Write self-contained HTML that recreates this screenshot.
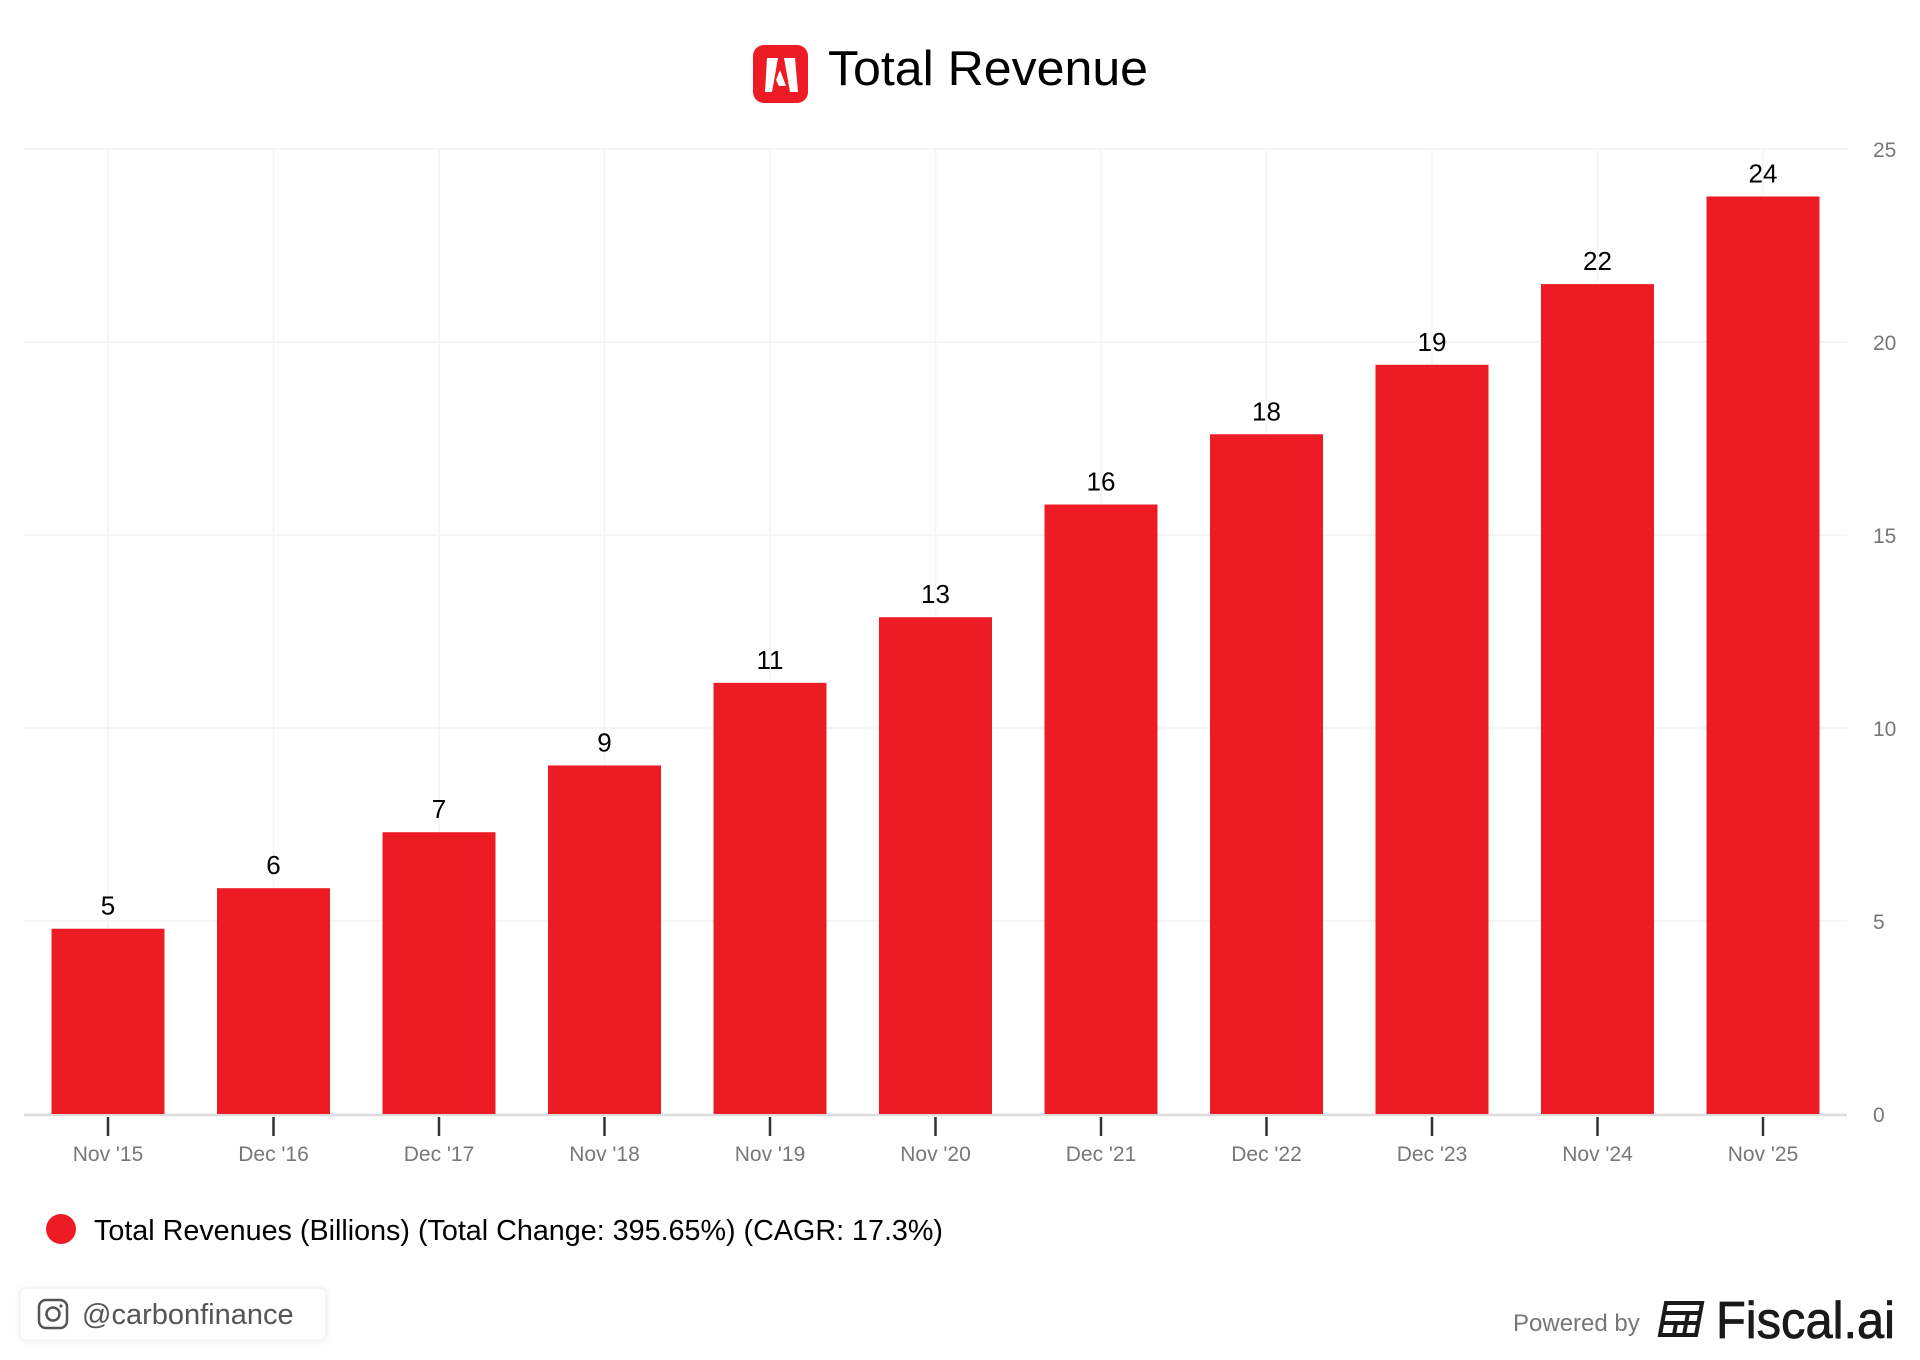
<!DOCTYPE html>
<html><head><meta charset="utf-8"><style>
html,body{margin:0;padding:0;background:#fff;}
body{width:1920px;height:1360px;position:relative;overflow:hidden;font-family:"Liberation Sans",sans-serif;}
svg{position:absolute;left:0;top:0;}
</style></head><body>
<svg id="chart" width="1920" height="1360">
  <g>
    <rect x="753" y="45" width="55" height="58" rx="11" fill="#ed1c24"/>
    <polygon points="767,58 778,58 772,92 765,92" fill="#fff"/>
    <polygon points="784,58 795,58 798,92 790,92" fill="#fff"/>
    <polygon points="780,70 786,86 779,86 776,80" fill="#fff"/>
    <text x="828" y="85" font-size="49" fill="#000" textLength="320" lengthAdjust="spacingAndGlyphs">Total Revenue</text>
  </g>
  <g id="grid"></g>
  <g id="bars"></g>
  <g>
    <circle cx="61" cy="1229" r="15" fill="#ed1c24"/>
    <text x="94" y="1240" font-size="29" fill="#000" textLength="849" lengthAdjust="spacingAndGlyphs">Total Revenues (Billions) (Total Change: 395.65%) (CAGR: 17.3%)</text>
  </g>
  <g>
    <rect x="20" y="1288" width="306" height="52" rx="6" fill="#fff" stroke="#f0f0f0" style="filter:drop-shadow(0 1px 3px rgba(0,0,0,0.08))"/>
    <rect x="39" y="1300" width="28" height="28" rx="7" fill="none" stroke="#555" stroke-width="2.5"/>
    <circle cx="53" cy="1314" r="6.5" fill="none" stroke="#555" stroke-width="2.5"/>
    <circle cx="61" cy="1306" r="1.6" fill="#555"/>
    <text x="82" y="1324" font-size="29" fill="#555">@carbonfinance</text>
  </g>
  <g>
    <text x="1513" y="1331" font-size="24" fill="#777">Powered by</text>
    <g fill="none" stroke="#1a1a1a" stroke-width="4">
      <path d="M1666,1303 L1702,1303 L1696,1335 L1660,1335 Z"/>
      <path d="M1665,1313 L1700,1313 M1663,1323 L1698,1323 M1676,1323 L1674,1335 M1688,1313 L1684,1335"/>
    </g>
    <text x="1716" y="1338" font-size="52" fill="#1a1a1a" stroke="#1a1a1a" stroke-width="0.8" textLength="179" lengthAdjust="spacingAndGlyphs">Fiscal.ai</text>
  </g>
</svg>
<script>
const categories = ["Nov '15","Dec '16","Dec '17","Nov '18","Nov '19","Nov '20","Dec '21","Dec '22","Dec '23","Nov '24","Nov '25"];
const revenues = [4.80, 5.85, 7.30, 9.03, 11.17, 12.87, 15.79, 17.61, 19.41, 21.50, 23.77];
const valueLabels = ["5","6","7","9","11","13","16","18","19","22","24"];
const yTicks = [0, 5, 10, 15, 20, 25];

const NS = "http://www.w3.org/2000/svg";
const plotLeft = 24, plotRight = 1847, baseY = 1114, topY = 149, yMax = 25;
const firstX = 108, step = 165.5, barW = 113;
function yScale(v){ return baseY - (v / yMax) * (baseY - topY); }
function xScale(i){ return firstX + i * step; }
function mk(tag, attrs, parent){ const e = document.createElementNS(NS, tag); for (const k in attrs) e.setAttribute(k, attrs[k]); parent.appendChild(e); return e; }

const grid = document.getElementById('grid');
const bars = document.getElementById('bars');

yTicks.forEach(t => {
  const y = yScale(t);
  if (t > 0) {
    const l = mk('line', {x1: plotLeft, x2: plotRight, y1: y, y2: y, stroke: '#f2f2f2', 'stroke-width': 1.5}, grid);
    
    
  }
  const tx = mk('text', {x: 1873, y: y + 8, 'font-size': 21, fill: '#777'}, grid);
  tx.textContent = t;
  
  
});

categories.forEach((c, i) => {
  const x = xScale(i);
  const g = mk('line', {x1: x, x2: x, y1: topY, y2: baseY, stroke: '#f4f4f4', 'stroke-width': 1.5}, grid);
  
  
});

const axis = mk('line', {x1: plotLeft, x2: plotRight, y1: baseY + 1, y2: baseY + 1, stroke: '#dcdcdc', 'stroke-width': 2.5}, grid);



categories.forEach((c, i) => {
  const x = xScale(i), v = revenues[i], y = yScale(v);
  const r = mk('rect', {x: x - barW / 2, y: y, width: barW, height: baseY - y, fill: '#ed1c24'}, bars);
  
  
  const vl = mk('text', {x: x, y: y - 14, 'font-size': 26, fill: '#000', 'text-anchor': 'middle'}, bars);
  vl.textContent = valueLabels[i];
  
  
  const tk = mk('line', {x1: x, x2: x, y1: baseY + 3, y2: baseY + 22, stroke: '#333', 'stroke-width': 2.5}, bars);
  
  
  const xl = mk('text', {x: x, y: baseY + 47, 'font-size': 21, fill: '#777', 'text-anchor': 'middle'}, bars);
  xl.textContent = c;
  
  
});
</script>
</body></html>
